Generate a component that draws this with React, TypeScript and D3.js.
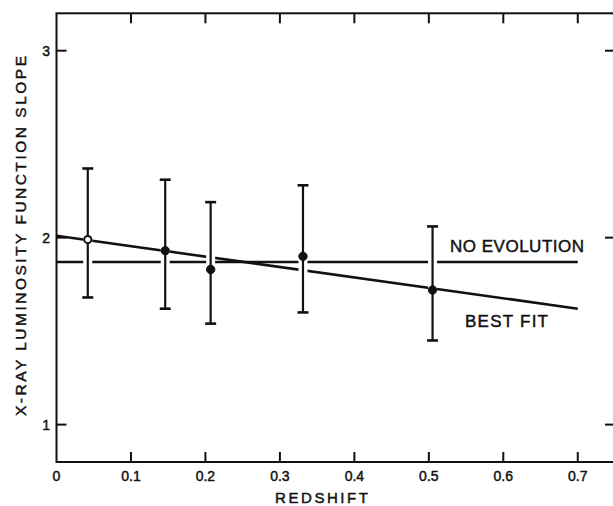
import React from "react";
import * as d3 from "d3";

const redshift = [0.042, 0.146, 0.207, 0.331, 0.505];
const slope = [1.99, 1.93, 1.83, 1.9, 1.72];
const errLow = [1.68, 1.62, 1.54, 1.6, 1.45];
const errHigh = [2.37, 2.31, 2.19, 2.28, 2.06];
const openPoint = [true, false, false, false, false];

// model lines
const lineX = [0, 0.7];
const noEvolutionY = [1.87, 1.87];
const bestFitY = [2.01, 1.62];

const xTicks = [0, 0.1, 0.2, 0.3, 0.4, 0.5, 0.6, 0.7];
const xTickLabels = ["0", "0.1", "0.2", "0.3", "0.4", "0.5", "0.6", "0.7"];
const yTicks = [1, 2, 3];
const yTickLabels = ["1", "2", "3"];

const width = 613;
const height = 506;
const font = "'Liberation Sans', Arial, sans-serif";
const ink = "#111";

export default function App() {
  const x = d3.scaleLinear().domain([0, 0.75]).range([56.5, 615]);
  const y = d3.scaleLinear().domain([0.8, 3.2]).range([462, 13.3]);

  const line = d3
    .line<number>()
    .x((_, i) => x(lineX[i]))
    .y((d) => y(d));

  const tick = 10;
  const cap = 5.5;
  // hand lettering is a bit heavier than the plain font
  const textInk = { fill: ink, stroke: ink, strokeWidth: 0.45 };

  return (
    <svg
      width={width}
      height={height}
      style={{ position: "absolute", left: 0, top: 0, background: "#fff" }}
      fontFamily={font}
    >
      {/* model lines */}
      <path d={line(noEvolutionY) || ""} fill="none" stroke={ink} strokeWidth={2.4} />
      <path d={line(bestFitY) || ""} fill="none" stroke={ink} strokeWidth={2.6} />

      {/* white gaps where lines cross the error bars */}
      {redshift.map((r, i) => (
        <line
          key={"h" + i}
          x1={x(r)}
          x2={x(r)}
          y1={y(errHigh[i])}
          y2={y(errLow[i])}
          stroke="#fff"
          strokeWidth={9}
        />
      ))}

      {/* error bars */}
      {redshift.map((r, i) => (
        <g key={"e" + i} stroke={ink} strokeWidth={2.2}>
          <line x1={x(r)} x2={x(r)} y1={y(errHigh[i])} y2={y(errLow[i])} />
          <line x1={x(r) - cap} x2={x(r) + cap} y1={y(errHigh[i])} y2={y(errHigh[i])} strokeWidth={2.6} />
          <line x1={x(r) - cap} x2={x(r) + cap} y1={y(errLow[i])} y2={y(errLow[i])} strokeWidth={2.6} />
        </g>
      ))}

      {/* points */}
      {redshift.map((r, i) => (
        <circle
          key={"p" + i}
          cx={x(r)}
          cy={y(slope[i])}
          r={openPoint[i] ? 3.6 : 4.2}
          fill={openPoint[i] ? "#fff" : ink}
          stroke={ink}
          strokeWidth={openPoint[i] ? 2 : 1}
        />
      ))}

      {/* frame */}
      <rect
        x={x(0)}
        y={y(3.2)}
        width={x(0.75) - x(0)}
        height={y(0.8) - y(3.2)}
        fill="none"
        stroke={ink}
        strokeWidth={2}
      />

      {/* x ticks, bottom and top */}
      {xTicks.slice(1).map((t) => (
        <g key={"xt" + t} stroke={ink} strokeWidth={2}>
          <line x1={x(t)} x2={x(t)} y1={y(0.8)} y2={y(0.8) - tick} />
          <line x1={x(t)} x2={x(t)} y1={y(3.2)} y2={y(3.2) + tick} />
        </g>
      ))}
      {xTicks.map((t, i) => (
        <text key={"xl" + t} x={x(t)} y={481} textAnchor="middle" fontSize={14} {...textInk}>
          {xTickLabels[i]}
        </text>
      ))}

      {/* y ticks, left and right */}
      {yTicks.map((t) => (
        <g key={"yt" + t} stroke={ink} strokeWidth={2}>
          <line x1={x(0)} x2={x(0) + tick} y1={y(t)} y2={y(t)} />
          <line x1={x(0.75)} x2={x(0.75) - tick} y1={y(t)} y2={y(t)} />
        </g>
      ))}
      {yTicks.map((t, i) => (
        <text key={"yl" + t} x={50} y={y(t)} dy="0.36em" textAnchor="end" fontSize={14} {...textInk}>
          {yTickLabels[i]}
        </text>
      ))}

      {/* line labels */}
      <text x={450} y={252} fontSize={17} textLength={134} lengthAdjust="spacing" {...textInk}>
        NO EVOLUTION
      </text>
      <text x={465} y={327} fontSize={17} textLength={83} lengthAdjust="spacing" {...textInk}>
        BEST FIT
      </text>

      {/* axis titles */}
      <text x={321.5} y={503} textAnchor="middle" fontSize={15} textLength={93} lengthAdjust="spacing" {...textInk}>
        REDSHIFT
      </text>
      <text
        transform="translate(26,236) rotate(-90)"
        textAnchor="middle"
        fontSize={15.5}
        textLength={360}
        lengthAdjust="spacing"
        {...textInk}
      >
        X-RAY LUMINOSITY FUNCTION SLOPE
      </text>
    </svg>
  );
}
